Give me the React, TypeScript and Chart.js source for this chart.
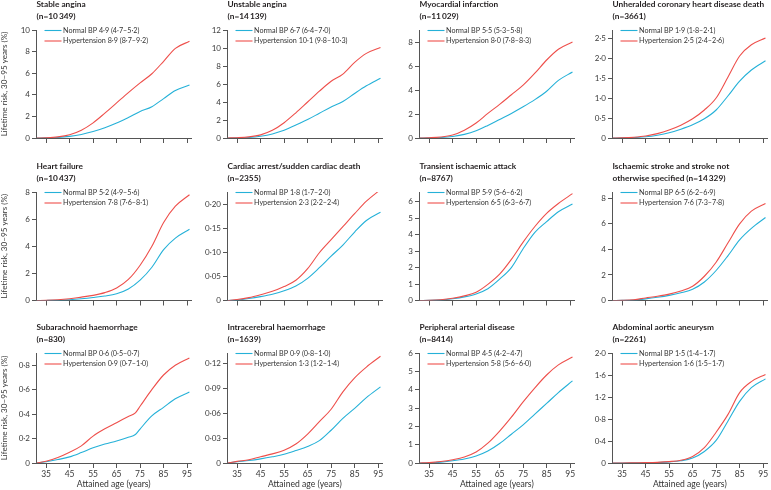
import React, { useEffect, useRef } from 'react';
import { Chart, registerables } from 'chart.js';

Chart.register(...registerables);

// ---------- data ----------
const ages = [31, 35, 40, 45, 50, 55, 60, 65, 70, 75, 80, 85, 90, 96];
const sahAges = [31, 35, 40, 45, 50, 55, 60, 65, 70, 73, 75, 80, 85, 90, 96];
const xTicks = [35, 45, 55, 65, 75, 85, 95];

const stableAnginaNormal = [0, 0.01, 0.05, 0.15, 0.33, 0.6, 0.95, 1.38, 1.9, 2.45, 2.9, 3.65, 4.4, 4.9];
const stableAnginaHyper = [0, 0.02, 0.1, 0.3, 0.72, 1.4, 2.3, 3.25, 4.2, 5.1, 5.95, 7.1, 8.3, 8.95];

const unstableAnginaNormal = [0, 0.01, 0.06, 0.2, 0.45, 0.85, 1.45, 2.05, 2.75, 3.45, 4.05, 4.95, 5.8, 6.65];
const unstableAnginaHyper = [0, 0.03, 0.12, 0.35, 0.85, 1.7, 2.8, 4.0, 5.2, 6.3, 7.1, 8.4, 9.4, 10.05];

const miNormal = [0, 0.01, 0.04, 0.13, 0.3, 0.6, 1.05, 1.55, 2.05, 2.6, 3.2, 3.9, 4.8, 5.5];
const miHyper = [0, 0.02, 0.08, 0.25, 0.65, 1.25, 2.05, 2.8, 3.6, 4.4, 5.4, 6.5, 7.4, 8.0];

const chdDeathNormal = [0, 0.003, 0.01, 0.03, 0.07, 0.13, 0.22, 0.33, 0.48, 0.7, 1.05, 1.42, 1.7, 1.93];
const chdDeathHyper = [0, 0.005, 0.02, 0.05, 0.11, 0.2, 0.32, 0.48, 0.7, 1.0, 1.52, 2.05, 2.33, 2.5];

const heartFailureNormal = [0, 0.005, 0.02, 0.06, 0.13, 0.22, 0.33, 0.5, 0.85, 1.5, 2.45, 3.75, 4.6, 5.25];
const heartFailureHyper = [0, 0.01, 0.05, 0.13, 0.25, 0.38, 0.58, 0.92, 1.55, 2.6, 4.0, 5.75, 6.95, 7.8];

const cardiacArrestNormal = [0, 0.001, 0.004, 0.008, 0.013, 0.02, 0.03, 0.046, 0.068, 0.092, 0.115, 0.142, 0.166, 0.183];
const cardiacArrestHyper = [0, 0.002, 0.006, 0.012, 0.019, 0.029, 0.042, 0.066, 0.099, 0.126, 0.153, 0.18, 0.206, 0.23];

const tiaNormal = [0, 0.01, 0.04, 0.11, 0.22, 0.4, 0.72, 1.3, 2.0, 3.15, 4.15, 4.8, 5.4, 5.87];
const tiaHyper = [0, 0.01, 0.05, 0.14, 0.28, 0.5, 0.98, 1.6, 2.5, 3.55, 4.5, 5.3, 5.9, 6.5];

const strokeNormal = [0, 0.008, 0.04, 0.13, 0.25, 0.4, 0.6, 0.88, 1.45, 2.35, 3.5, 4.75, 5.65, 6.5];
const strokeHyper = [0, 0.01, 0.06, 0.2, 0.33, 0.5, 0.75, 1.12, 1.9, 3.0, 4.5, 6.0, 7.0, 7.6];

const sahNormal = [0, 0.01, 0.028, 0.05, 0.085, 0.124, 0.155, 0.18, 0.21, 0.233, 0.278, 0.385, 0.455, 0.525, 0.58];
const sahHyper = [0, 0.015, 0.045, 0.088, 0.14, 0.22, 0.28, 0.33, 0.38, 0.41, 0.464, 0.6, 0.72, 0.8, 0.86];

const ichNormal = [0, 0.0015, 0.003, 0.005, 0.0075, 0.0105, 0.015, 0.02, 0.027, 0.0396, 0.054, 0.066, 0.079, 0.092];
const ichHyper = [0, 0.002, 0.004, 0.0075, 0.011, 0.0155, 0.023, 0.035, 0.05, 0.065, 0.086, 0.103, 0.116, 0.129];

const padNormal = [0, 0.01, 0.05, 0.12, 0.22, 0.38, 0.65, 1.06, 1.57, 2.08, 2.67, 3.25, 3.84, 4.48];
const padHyper = [0, 0.02, 0.08, 0.18, 0.33, 0.6, 1.08, 1.74, 2.5, 3.33, 4.1, 4.8, 5.35, 5.78];

const aaaNormal = [0, 0, 0.002, 0.005, 0.01, 0.02, 0.04, 0.09, 0.21, 0.41, 0.76, 1.12, 1.37, 1.53];
const aaaHyper = [0, 0, 0.003, 0.006, 0.012, 0.025, 0.05, 0.12, 0.28, 0.56, 0.88, 1.28, 1.48, 1.61];

const yTicks10 = [0, 2, 4, 6, 8, 10];
const yTicks12 = [0, 2, 4, 6, 8, 10, 12];
const yTicks8 = [0, 2, 4, 6, 8];
const yTicks25 = [0, 0.5, 1.0, 1.5, 2.0, 2.5];
const yTicks020 = [0, 0.05, 0.1, 0.15, 0.2];
const yTicks6 = [0, 1, 2, 3, 4, 5, 6];
const yTicks08 = [0, 0.2, 0.4, 0.6, 0.8];
const yTicks012 = [0, 0.03, 0.06, 0.09, 0.12];
const yTicks20 = [0, 0.4, 0.8, 1.2, 1.6, 2.0];

const titles: [string, string][] = [
  ['Stable angina', '(n=10\u2009349)'],
  ['Unstable angina', '(n=14\u2009139)'],
  ['Myocardial infarction', '(n=11\u2009029)'],
  ['Unheralded coronary heart disease death', '(n=3661)'],
  ['Heart failure', '(n=10\u2009437)'],
  ['Cardiac arrest/sudden cardiac death', '(n=2355)'],
  ['Transient ischaemic attack', '(n=8767)'],
  ['Ischaemic stroke and stroke not', 'otherwise specified (n=14\u2009329)'],
  ['Subarachnoid haemorrhage', '(n=830)'],
  ['Intracerebral haemorrhage', '(n=1639)'],
  ['Peripheral arterial disease', '(n=8414)'],
  ['Abdominal aortic aneurysm', '(n=2261)'],
];

const normalLabels = [
  'Normal BP 4·9 (4·7–5·2)', 'Normal BP 6·7 (6·4–7·0)', 'Normal BP 5·5 (5·3–5·8)', 'Normal BP 1·9 (1·8–2·1)',
  'Normal BP 5·2 (4·9–5·6)', 'Normal BP 1·8 (1·7–2·0)', 'Normal BP 5·9 (5·6–6·2)', 'Normal BP 6·5 (6·2–6·9)',
  'Normal BP 0·6 (0·5–0·7)', 'Normal BP 0·9 (0·8–1·0)', 'Normal BP 4·5 (4·2–4·7)', 'Normal BP 1·5 (1·4–1·7)',
];
const hyperLabels = [
  'Hypertension 8·9 (8·7–9·2)', 'Hypertension 10·1 (9·8–10·3)', 'Hypertension 8·0 (7·8–8·3)', 'Hypertension 2·5 (2·4–2·6)',
  'Hypertension 7·8 (7·6–8·1)', 'Hypertension 2·3 (2·2–2·4)', 'Hypertension 6·5 (6·3–6·7)', 'Hypertension 7·6 (7·3–7·8)',
  'Hypertension 0·9 (0·7–1·0)', 'Hypertension 1·3 (1·2–1·4)', 'Hypertension 5·8 (5·6–6·0)', 'Hypertension 1·6 (1·5–1·7)',
];

const panelAges = [ages, ages, ages, ages, ages, ages, ages, ages, sahAges, ages, ages, ages];
const panelNormal = [stableAnginaNormal, unstableAnginaNormal, miNormal, chdDeathNormal, heartFailureNormal, cardiacArrestNormal, tiaNormal, strokeNormal, sahNormal, ichNormal, padNormal, aaaNormal];
const panelHyper = [stableAnginaHyper, unstableAnginaHyper, miHyper, chdDeathHyper, heartFailureHyper, cardiacArrestHyper, tiaHyper, strokeHyper, sahHyper, ichHyper, padHyper, aaaHyper];
const panelYTicks = [yTicks10, yTicks12, yTicks8, yTicks25, yTicks8, yTicks020, yTicks6, yTicks8, yTicks08, yTicks012, yTicks6, yTicks20];
const panelYMax = [10, 12, 9, 2.7, 8, 0.225, 6.6, 8.5, 0.9, 0.133, 6, 2.0];
const panelDecimals = [0, 0, 0, 1, 0, 2, 0, 0, 1, 2, 0, 1];

// ---------- layout ----------
const colCanvasLeft = [0, 193, 385, 578];
const colCanvasWidth = [193, 192, 193, 193];
const axisX = [36, 227, 419, 612];
const rowCanvasTop = [0, 160, 320];
const rowCanvasHeight = [160, 160, 170];
const plotTop = [30, 192, 353];
const plotBottom = [138, 300.5, 463];
const X_MIN = 30.7;
const X_MAX = 96.9;
const PLOT_W = 155.6;

const BLUE = '#25b1d8';
const RED = '#ee4f4b';
const AXIS = '#555555';
const FONT = 'Lato';

const fmt = (v: number, d: number) => (v === 0 ? '0' : v.toFixed(d).replace('.', '·'));

const decorPlugin = {
  id: 'decor',
  afterDraw(chart: any, _args: any, opts: any) {
    const { ctx, chartArea } = chart;
    const x0 = chartArea.left;
    const top = chartArea.top;
    ctx.save();
    ctx.textBaseline = 'middle';
    ctx.textAlign = 'left';
    ctx.fillStyle = '#231f20';
    ctx.font = `bold 8.3px ${FONT}`;
    ctx.fillText(opts.title[0], x0 + 0.5, top - 25.5);
    ctx.fillText(opts.title[1], x0 + 0.5, top - 14);
    const items = [
      { text: opts.normal, color: BLUE },
      { text: opts.hyper, color: RED },
    ];
    items.forEach((it, i) => {
      const y = top + 0.5 + i * 10.5;
      ctx.strokeStyle = it.color;
      ctx.lineWidth = 1.1;
      ctx.beginPath();
      ctx.moveTo(x0 + 8.5, y);
      ctx.lineTo(x0 + 25.5, y);
      ctx.stroke();
      ctx.fillStyle = '#333333';
      ctx.font = `7.2px ${FONT}`;
      ctx.fillText(it.text, x0 + 27, y);
    });
    ctx.restore();
  },
};

function Panel({ idx }: { idx: number }) {
  const ref = useRef<HTMLCanvasElement>(null);
  const c = idx % 4;
  const r = Math.floor(idx / 4);
  const w = colCanvasWidth[c];
  const h = rowCanvasHeight[r];

  useEffect(() => {
    if (!ref.current) return;
    const wy = c === 0 ? 36 : 30;
    const padLeft = axisX[c] - colCanvasLeft[c] - wy;
    const padRight = w - (axisX[c] - colCanvasLeft[c]) - PLOT_W;
    const padTop = plotTop[r] - rowCanvasTop[r];
    const hx = r === 2 ? 26 : 8;
    const padBottom = h - (plotBottom[r] - rowCanvasTop[r]) - hx;
    const a = panelAges[idx];
    const dec = panelDecimals[idx];
    const yt = panelYTicks[idx];

    const chart = new Chart(ref.current, {
      type: 'line',
      data: {
        datasets: [
          {
            label: normalLabels[idx],
            data: panelNormal[idx].map((v, i) => ({ x: a[i], y: v })),
            borderColor: BLUE,
            borderWidth: 1.1,
            pointRadius: 0,
            cubicInterpolationMode: 'monotone',
            fill: false,
            order: 1,
          },
          {
            label: hyperLabels[idx],
            data: panelHyper[idx].map((v, i) => ({ x: a[i], y: v })),
            borderColor: RED,
            borderWidth: 1.1,
            pointRadius: 0,
            cubicInterpolationMode: 'monotone',
            fill: false,
            order: 0,
          },
        ],
      },
      options: {
        animation: false,
        responsive: false,
        devicePixelRatio: 1,
        layout: { padding: { left: padLeft, right: padRight, top: padTop, bottom: padBottom } },
        plugins: {
          legend: { display: false },
          tooltip: { enabled: false },
          decor: { title: titles[idx], normal: normalLabels[idx], hyper: hyperLabels[idx] },
        } as any,
        scales: {
          x: {
            type: 'linear',
            min: X_MIN,
            max: X_MAX,
            afterBuildTicks: (s: any) => {
              s.ticks = xTicks.map((v) => ({ value: v }));
            },
            afterFit: (s: any) => {
              s.height = hx;
            },
            ticks: {
              display: r === 2,
              autoSkip: false,
              maxRotation: 0,
              padding: 1,
              color: '#3a3a3a',
              font: { family: FONT, size: 8.5 },
              callback: (v: any) => String(v),
            },
            grid: { display: true, drawOnChartArea: false, drawTicks: true, tickLength: 5, color: AXIS, lineWidth: 1 },
            border: { display: true, color: AXIS, width: 1 },
            title: {
              display: r === 2,
              text: 'Attained age (years)',
              color: '#333333',
              font: { family: FONT, size: 8.6 },
              padding: 0,
            },
          },
          y: {
            type: 'linear',
            min: 0,
            max: panelYMax[idx],
            afterBuildTicks: (s: any) => {
              s.ticks = yt.map((v) => ({ value: v }));
            },
            afterFit: (s: any) => {
              s.width = wy;
            },
            ticks: {
              padding: 2,
              color: '#3a3a3a',
              font: { family: FONT, size: 8 },
              callback: (v: any) => fmt(Number(v), dec),
            },
            grid: { display: true, drawOnChartArea: false, drawTicks: true, tickLength: 4, color: AXIS, lineWidth: 1 },
            border: { display: true, color: AXIS, width: 1 },
            title: {
              display: c === 0,
              text: 'Lifetime risk, 30–95 years (%)',
              color: '#333333',
              font: { family: FONT, size: 8.1 },
              padding: 0,
            },
          },
        },
      } as any,
      plugins: [decorPlugin as any],
    });
    return () => chart.destroy();
  }, []);

  return (
    <canvas
      ref={ref}
      width={w}
      height={h}
      style={{ position: 'absolute', left: colCanvasLeft[c], top: rowCanvasTop[r], width: w, height: h }}
    />
  );
}

export default function App() {
  return (
    <div style={{ position: 'absolute', left: 0, top: 0, width: 771, height: 490, background: '#ffffff', overflow: 'hidden' }}>
      {titles.map((_, i) => (
        <Panel key={i} idx={i} />
      ))}
    </div>
  );
}
